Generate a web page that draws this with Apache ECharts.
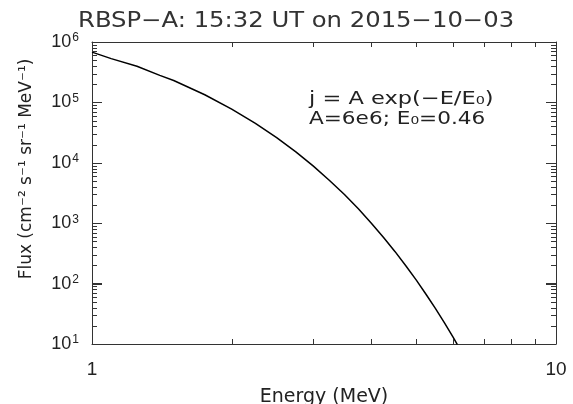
<!DOCTYPE html>
<html>
<head>
<meta charset="utf-8">
<script src="https://cdn.jsdelivr.net/npm/echarts@6/dist/echarts.min.js"></script>
<style>
  html, body { margin: 0; padding: 0; background: #fff; }
  #chart { width: 573px; height: 404px; }
</style>
</head>
<body>
<div id="chart"></div>
<script>
// Electron flux spectrum, RBSP-A, 15:32 UT on 2015-10-03
const energy = [1.0, 1.1, 1.25, 1.4, 1.5, 1.75, 2.0, 2.25, 2.5, 2.75, 3.0, 3.25, 3.5, 3.75, 4.0, 4.25, 4.5, 4.75, 5.0, 5.25, 5.5, 5.75, 6.0, 6.13];
const flux = [6.8e5, 5.3e5, 3.97e5, 2.8e5, 2.3e5, 1.34e5, 7.76e4, 4.5e4, 2.62e4, 1.52e4, 8.8e3, 5.1e3, 2.98e3, 1.73e3, 1.0e3, 5.8e2, 3.38e2, 1.96e2, 1.14e2, 6.6e1, 3.85e1, 2.24e1, 1.3e1, 9.8];

const xRange = [1, 10];
const yRange = [10, 1e6];
const xMinorTicks = [2, 3, 4, 5, 6, 7, 8, 9];
const yMajorTicks = [1e1, 1e2, 1e3, 1e4, 1e5, 1e6];
const yMinorTicks = [2e1,3e1,4e1,5e1,6e1,7e1,8e1,9e1, 2e2,3e2,4e2,5e2,6e2,7e2,8e2,9e2,
                     2e3,3e3,4e3,5e3,6e3,7e3,8e3,9e3, 2e4,3e4,4e4,5e4,6e4,7e4,8e4,9e4,
                     2e5,3e5,4e5,5e5,6e5,7e5,8e5,9e5];

const titleText = 'RBSP\u2212A: 15:32 UT on 2015\u221210\u221203';
const xName = 'Energy (MeV)';
const yName = 'Flux (cm\u207B\u00B2 s\u207B\u00B9 sr\u207B\u00B9 MeV\u207B\u00B9)';
const fitLine1 = 'j = A exp(\u2212E/E\u2080)';
const fitLine2 = 'A=6e6; E\u2080=0.46';

const FONT = 'DejaVu Sans';
const LABEL_FONT = 'Liberation Sans';
const INK = '#222';
const FRAME = '#333';

const chart = echarts.init(document.getElementById('chart'), null, { renderer: 'canvas' });

const frameLine = { show: true, lineStyle: { color: FRAME, width: 1 } };
const majorTick = { show: true, inside: true, length: 10, lineStyle: { color: FRAME, width: 1 } };

chart.setOption({
  animation: false,
  grid: { left: 92, right: 17, top: 42, bottom: 60, outerBoundsMode: 'none' },
  xAxis: [
    {
      type: 'log', logBase: 10, min: xRange[0], max: xRange[1], position: 'bottom',
      axisLine: frameLine, axisTick: { show: false }, splitLine: { show: false },
      axisLabel: { fontFamily: LABEL_FONT, fontSize: 19, color: INK, margin: 16 },
      name: xName, nameLocation: 'middle', nameGap: 44,
      nameTextStyle: { fontFamily: FONT, fontSize: 19, color: INK }
    },
    {
      type: 'log', logBase: 10, min: xRange[0], max: xRange[1], position: 'top',
      axisLine: frameLine, axisTick: { show: false }, splitLine: { show: false },
      axisLabel: { show: false }
    }
  ],
  yAxis: [
    {
      type: 'log', logBase: 10, min: yRange[0], max: yRange[1], position: 'left',
      axisLine: frameLine, axisTick: majorTick, splitLine: { show: false },
      axisLabel: {
        margin: 13,
        formatter: function (v) { return '{b|10}{s|' + Math.round(Math.log10(v)) + '}'; },
        rich: {
          b: { fontFamily: LABEL_FONT, fontSize: 18, color: INK },
          s: { fontFamily: LABEL_FONT, fontSize: 12, color: INK, verticalAlign: 'top', padding: [0, 0, 8, 1] }
        }
      }
    },
    {
      type: 'log', logBase: 10, min: yRange[0], max: yRange[1], position: 'right',
      axisLine: frameLine, axisTick: majorTick, splitLine: { show: false },
      axisLabel: { show: false }
    }
  ],
  series: [
    {
      type: 'line', data: energy.map((e, i) => [e, flux[i]]),
      showSymbol: false,
      lineStyle: { color: '#000', width: 1.5 }
    }
  ]
});

// Inward ticks on both sides of the frame, placed through the axis scales
const ticks = [];
function px(pt) { return chart.convertToPixel({ xAxisIndex: 0, yAxisIndex: 0 }, pt); }
function tickRect(x, y, w, h) {
  ticks.push({ type: 'rect', id: 'tick' + ticks.length, z: 10,
    shape: { x: x, y: y, width: w, height: h }, style: { fill: FRAME } });
}
xMinorTicks.forEach(function (v) {
  const b = px([v, yRange[0]]), t = px([v, yRange[1]]);
  const x = Math.round(b[0]);
  tickRect(x, Math.round(b[1]) - 5, 1, 5);
  tickRect(x, Math.round(t[1]), 1, 5);
});
function yTick(v, len) {
  const l = px([xRange[0], v]), r = px([xRange[1], v]);
  const y = Math.round(l[1]);
  tickRect(Math.round(l[0]), y, len, 1);
  tickRect(Math.round(r[0]) - len, y, len, 1);
}
yMajorTicks.forEach(function (v) { yTick(v, 10); });
yMinorTicks.forEach(function (v) { yTick(v, 5); });

const texts = [
  { type: 'text', id: 'title', x: 78, y: 22, scaleX: 1.157,
    style: { text: titleText, fontFamily: FONT, fontSize: 21, fill: '#333', align: 'left', verticalAlign: 'middle' } },
  { type: 'text', id: 'fit1', x: 309, y: 99, scaleX: 1.25,
    style: { text: fitLine1, fontFamily: FONT, fontSize: 18, fill: INK, align: 'left', verticalAlign: 'middle' } },
  { type: 'text', id: 'fit2', x: 309, y: 119, scaleX: 1.2,
    style: { text: fitLine2, fontFamily: FONT, fontSize: 18, fill: INK, align: 'left', verticalAlign: 'middle' } },
  { type: 'text', id: 'yname', x: 27, y: 169, rotation: Math.PI / 2,
    style: { text: yName, fontFamily: FONT, fontSize: 17, fill: INK, align: 'center', verticalAlign: 'middle' } }
];

chart.setOption({ graphic: { elements: ticks.concat(texts) } });
</script>
</body>
</html>
